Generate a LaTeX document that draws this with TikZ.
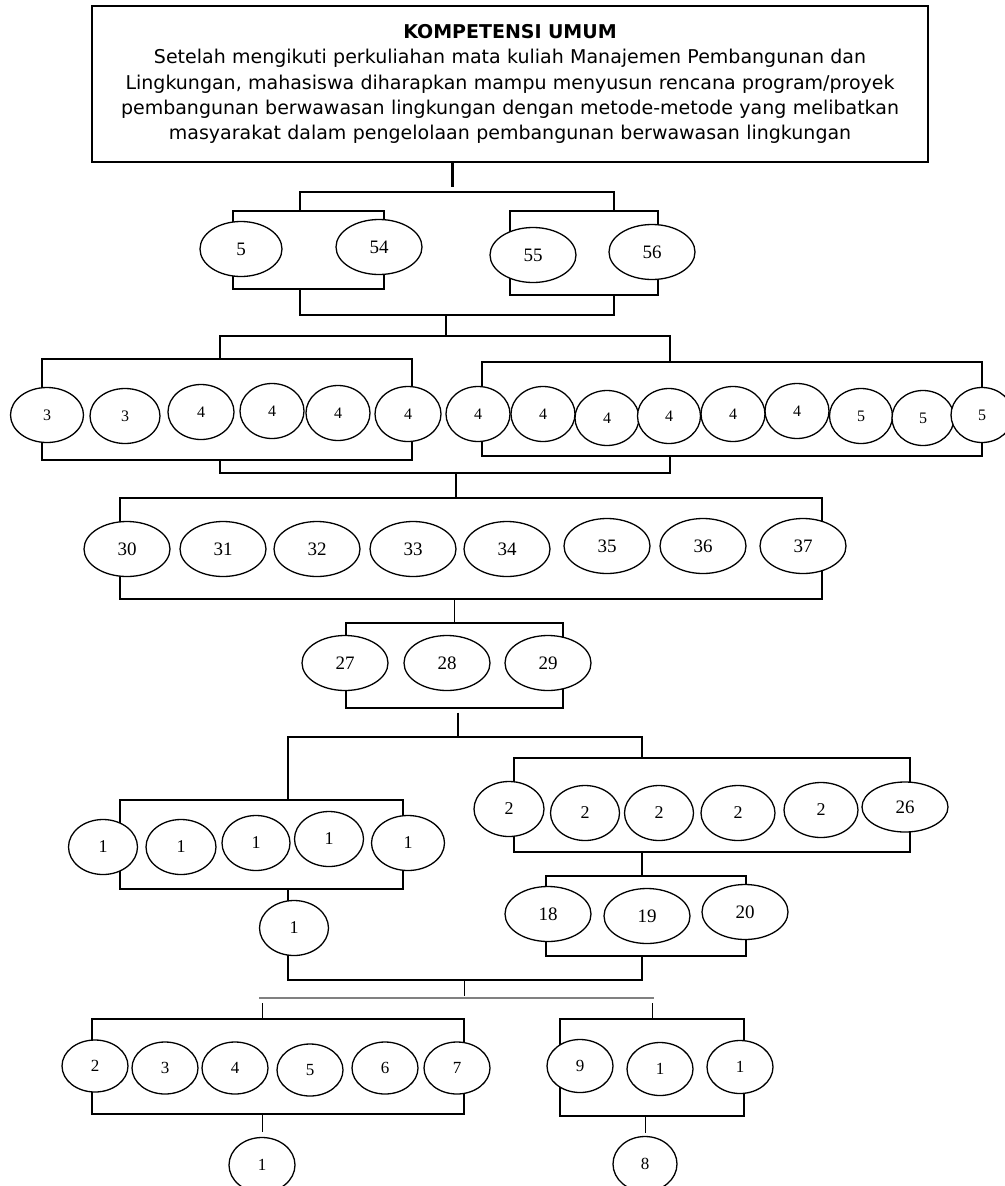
\documentclass[tikz,border=0pt]{standalone}
\usepackage{fontspec}
\setmainfont{Liberation Serif}
\newfontfamily\headfont{DejaVu Sans}
\usetikzlibrary{shapes.geometric}

\begin{document}
\begin{tikzpicture}[x=1pt,y=-1pt,line width=1.3pt,
	oval/.style={draw,shape=ellipse,fill=white,inner sep=0pt,minimum width=66,minimum height=55,font=\fontsize{18}{18}\selectfont},
	wideoval/.style={minimum width=86,font=\fontsize{19}{19}\selectfont},
	digit/.style={font=\fontsize{16}{16}\selectfont},
	grp/.style args={#1x#2}{draw,inner sep=0pt,minimum width=#1,minimum height=#2},
	stem/.style={line width=3pt},
	bar/.style={line width=2pt,gray}]
	\useasboundingbox (0,0) rectangle (1004,1186);

	\draw (510,84) node (umum) [grp=836x156,text width=800,align=center,font=\headfont\fontsize{19}{25.3}\selectfont] {\textbf{KOMPETENSI UMUM}\\Setelah mengikuti perkuliahan mata kuliah Manajemen Pembangunan dan\\Lingkungan, mahasiswa diharapkan mampu menyusun rencana program/proyek\\pembangunan berwawasan lingkungan dengan metode-metode yang melibatkan\\masyarakat dalam pengelolaan pembangunan berwawasan lingkungan};

	\draw (308.5,250) node (g1a) [grp=151x78] {};
	\draw (584,253) node (g1b) [grp=148x84] {};
	\draw (227,409.5) node (g2a) [grp=370x101] {};
	\draw (732,409) node (g2b) [grp=500x94] {};
	\draw (471,548.5) node (g3) [grp=702x101] {};
	\draw (454.5,665.5) node (g4) [grp=217x85] {};
	\draw (261.5,844.5) node (g5a) [grp=283x89] {};
	\draw (712,805) node (g5b) [grp=396x94] {};
	\draw (646,916) node (g6) [grp=200x80] {};
	\draw (278,1066.5) node (g7a) [grp=372x95] {};
	\draw (652,1067.5) node (g7b) [grp=184x97] {};

	\coordinate (j1) at (452,192);
	\coordinate (j1l) at (300,192);
	\coordinate (j1r) at (614,192);
	\coordinate (k1) at (614,315);
	\coordinate (j2) at (446,336);
	\coordinate (j2l) at (220,336);
	\coordinate (j2r) at (670,336);
	\coordinate (k2) at (670,473);
	\coordinate (s2) at (456,473);
	\coordinate (j5) at (458,737);
	\coordinate (j5l) at (288,737);
	\coordinate (j5r) at (642,737);
	\coordinate (k5) at (642,980);
	\coordinate (s5) at (464,996);
	\coordinate (m7l) at (259,998);
	\coordinate (m7r) at (654,998);
	\coordinate (d7l) at (262,1003);
	\coordinate (d7r) at (652,1003);

	\draw[stem,shorten >=5pt] (umum.south -| j1) -- (j1);
	\draw (g1a.north -| j1l) |- (j1r) -- (g1b.north -| j1r);
	\draw (g1a.south -| j1l) |- (k1) -- (g1b.south -| k1);
	\draw (k1 -| j2) -- (j2);
	\draw (g2a.north -| j2l) |- (j2r) -- (g2b.north -| j2r);
	\draw (g2a.south -| j2l) |- (k2) -- (g2b.south -| k2);
	\draw (s2) -- (g3.north -| s2);
	\draw (g3.south -| g4.north) -- (g4.north);
	\draw[shorten <=4pt] (g4.south -| j5) -- (j5);
	\draw (g5a.north -| j5l) |- (j5r) -- (g5b.north -| j5r);
	\draw (g5b.south -| j5r) -- (g6.north -| j5r);
	\draw (g5a.south -| j5l) |- (k5) -- (g6.south -| k5);
	\draw[line width=1pt] (k5 -| s5) -- (s5);
	\draw[bar] (m7l) -- (m7r);
	\draw[line width=1pt] (d7l) -- (g7a.north -| d7l);
	\draw[line width=1pt] (d7r) -- (g7b.north -| d7r);

	\draw (241,249) node (a5) [oval,wideoval,minimum width=82] {5};
	\draw (379,247) node (a54) [oval,wideoval] {54};
	\draw (533,255) node (a55) [oval,wideoval] {55};
	\draw (652,252) node (a56) [oval,wideoval] {56};

	\draw (47,415) node (b1) [oval,digit,minimum width=73] {3};
	\draw (125,416) node (b2) [oval,digit,minimum width=70] {3};
	\draw (201,412) node (b3) [oval,digit] {4};
	\draw (272,411) node (b4) [oval,digit,minimum width=64] {4};
	\draw (338,413) node (b5) [oval,digit,minimum width=64] {4};
	\draw (408,414) node (b6) [oval,digit] {4};
	\draw (478,414) node (b7) [oval,digit,minimum width=64] {4};
	\draw (543,414) node (b8) [oval,digit,minimum width=64] {4};
	\draw (607,418) node (b9) [oval,digit,minimum width=64] {4};
	\draw (669,416) node (b10) [oval,digit,minimum width=63] {4};
	\draw (733,414) node (b11) [oval,digit,minimum width=64] {4};
	\draw (797,411) node (b12) [oval,digit,minimum width=64] {4};
	\draw (861,416) node (b13) [oval,digit,minimum width=63] {5};
	\draw (923,418) node (b14) [oval,digit,minimum width=62] {5};
	\draw (982,415) node (b15) [oval,digit,minimum width=62] {5};

	\draw (127,549) node (c30) [oval,wideoval] {30};
	\draw (223,549) node (c31) [oval,wideoval] {31};
	\draw (317,549) node (c32) [oval,wideoval] {32};
	\draw (413,549) node (c33) [oval,wideoval] {33};
	\draw (507,549) node (c34) [oval,wideoval] {34};
	\draw (607,546) node (c35) [oval,wideoval] {35};
	\draw (703,546) node (c36) [oval,wideoval] {36};
	\draw (803,546) node (c37) [oval,wideoval] {37};

	\draw (345,663) node (d27) [oval,wideoval] {27};
	\draw (447,663) node (d28) [oval,wideoval] {28};
	\draw (548,663) node (d29) [oval,wideoval] {29};

	\draw (103,847) node (e1) [oval,minimum width=69] {1};
	\draw (181,847) node (e2) [oval,minimum width=70] {1};
	\draw (256,843) node (e3) [oval,minimum width=68] {1};
	\draw (329,839) node (e4) [oval,minimum width=69] {1};
	\draw (408,843) node (e5) [oval,minimum width=73] {1};

	\draw (509,809) node (f1) [oval,minimum width=70] {2};
	\draw (585,813) node (f2) [oval,minimum width=69] {2};
	\draw (659,813) node (f3) [oval,minimum width=69] {2};
	\draw (738,813) node (f4) [oval,minimum width=74] {2};
	\draw (821,810) node (f5) [oval,minimum width=74] {2};
	\draw (905,807) node (f26) [oval,wideoval,minimum height=50] {26};

	\draw (294,928) node (one) [oval,minimum width=69] {1};

	\draw (548,914) node (h18) [oval,wideoval] {18};
	\draw (647,916) node (h19) [oval,wideoval] {19};
	\draw (745,912) node (h20) [oval,wideoval] {20};

	\draw (95,1066) node (p2) [oval,minimum height=52,font=\fontsize{17}{17}\selectfont] {2};
	\draw (165,1068) node (p3) [oval,minimum height=52,font=\fontsize{17}{17}\selectfont] {3};
	\draw (235,1068) node (p4) [oval,minimum height=52,font=\fontsize{17}{17}\selectfont] {4};
	\draw (310,1070) node (p5) [oval,minimum height=52,font=\fontsize{17}{17}\selectfont] {5};
	\draw (385,1068) node (p6) [oval,minimum height=52,font=\fontsize{17}{17}\selectfont] {6};
	\draw (457,1068) node (p7) [oval,minimum height=52,font=\fontsize{17}{17}\selectfont] {7};

	\draw (580,1066) node (q9) [oval,minimum height=53,font=\fontsize{17}{17}\selectfont] {9};
	\draw (660,1069) node (q1) [oval,minimum height=53,font=\fontsize{17}{17}\selectfont] {1};
	\draw (740,1067) node (q2) [oval,minimum height=53,font=\fontsize{17}{17}\selectfont] {1};

	\draw (262,1165) node (bot1) [oval,font=\fontsize{17}{17}\selectfont] {1};
	\draw (645,1164) node (bot8) [oval,minimum width=64,font=\fontsize{17}{17}\selectfont] {8};

	\draw[line width=1pt,shorten >=5pt] (g7a.south -| bot1) -- (bot1.north);
	\draw[line width=1pt,shorten >=3pt] (g7b.south -| bot8) -- (bot8.north);
\end{tikzpicture}
\end{document}
